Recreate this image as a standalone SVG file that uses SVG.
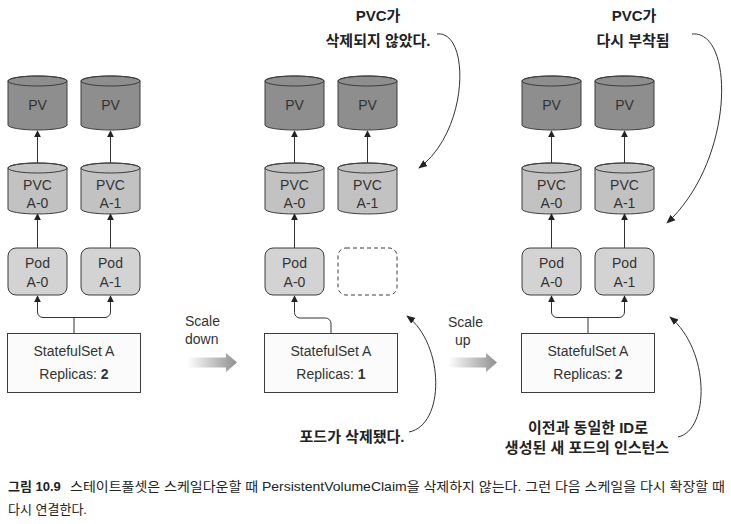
<svg xmlns="http://www.w3.org/2000/svg" width="731" height="524" viewBox="0 0 731 524">
<style>
.pv{fill:#8e8e8e;stroke:#3c3c3c;stroke-width:1}
.pvc{fill:#c2c2c2;stroke:#3c3c3c;stroke-width:1}
.cap{fill:none;stroke:#3c3c3c;stroke-width:1}
.pod{fill:#d3d3d3;stroke:#3c3c3c;stroke-width:1}
.ss{fill:#fbfbfb;stroke:#3c3c3c;stroke-width:1}
.dash{fill:none;stroke:#3c3c3c;stroke-width:1;stroke-dasharray:4 3}
.t{font-family:"Liberation Sans",Arial,sans-serif;font-size:14px;fill:#333;text-anchor:middle}
.tl{font-family:"Liberation Sans",Arial,sans-serif;font-size:14px;fill:#333}
.k{font-family:"Liberation Sans","Noto Sans CJK KR",sans-serif;font-size:15px;font-weight:bold;fill:#222;text-anchor:middle}
.cp{font-family:"Liberation Sans","Noto Sans CJK KR",sans-serif;font-size:13px;fill:#222}
.ln{fill:none;stroke:#333;stroke-width:1}
.cv{fill:none;stroke:#333;stroke-width:1}
</style>
<defs>
<marker id="ah" viewBox="0 0 10 10" refX="9" refY="5" markerWidth="7" markerHeight="7" markerUnits="userSpaceOnUse" orient="auto">
<path d="M0,0 L10,5 L0,10 Z" fill="#222"/>
</marker>
<marker id="ah2" viewBox="0 0 10 10" refX="9" refY="5" markerWidth="9" markerHeight="9" markerUnits="userSpaceOnUse" orient="auto">
<path d="M0,1 L10,5 L0,9 Z" fill="#222"/>
</marker>
<linearGradient id="grad" x1="0" y1="0" x2="1" y2="0">
<stop offset="0" stop-color="#ffffff"/>
<stop offset="1" stop-color="#8f8f8f"/>
</linearGradient>
</defs>

<!-- Column 1 -->
<g id="pv-1a"><path class="pv" d="M8,81 a29.5,5 0 0 1 59,0 V125 a29.5,5 0 0 1 -59,0 Z"/><ellipse class="cap" cx="37.5" cy="81" rx="29.5" ry="5"/><text class="t" x="37.5" y="110">PV</text></g>
<g id="pv-1b"><path class="pv" d="M81,81 a29.5,5 0 0 1 59,0 V125 a29.5,5 0 0 1 -59,0 Z"/><ellipse class="cap" cx="110.5" cy="81" rx="29.5" ry="5"/><text class="t" x="110.5" y="110">PV</text></g>
<g id="pvc-1a"><path class="pvc" d="M8,168 a29.5,5 0 0 1 59,0 V209 a29.5,5 0 0 1 -59,0 Z"/><ellipse class="cap" cx="37.5" cy="168" rx="29.5" ry="5"/><text class="t" x="37.5" y="190">PVC</text><text class="t" x="37.5" y="208">A-0</text></g>
<g id="pvc-1b"><path class="pvc" d="M81,168 a29.5,5 0 0 1 59,0 V209 a29.5,5 0 0 1 -59,0 Z"/><ellipse class="cap" cx="110.5" cy="168" rx="29.5" ry="5"/><text class="t" x="110.5" y="190">PVC</text><text class="t" x="110.5" y="208">A-1</text></g>
<g id="pod-1a"><rect class="pod" x="8" y="248" width="59" height="47" rx="8"/><text class="t" x="37.5" y="268">Pod</text><text class="t" x="37.5" y="287">A-0</text></g>
<g id="pod-1b"><rect class="pod" x="81" y="248" width="59" height="47" rx="8"/><text class="t" x="110.5" y="268">Pod</text><text class="t" x="110.5" y="287">A-1</text></g>
<g id="ss-1"><rect class="ss" x="7.5" y="333.5" width="133" height="59"/><text class="t" x="74" y="356">StatefulSet A</text><text class="t" x="74" y="379">Replicas: <tspan font-weight="bold">2</tspan></text></g>

<!-- Column 2 -->
<g id="pv-2a"><path class="pv" d="M265,81 a29.5,5 0 0 1 59,0 V125 a29.5,5 0 0 1 -59,0 Z"/><ellipse class="cap" cx="294.5" cy="81" rx="29.5" ry="5"/><text class="t" x="294.5" y="110">PV</text></g>
<g id="pv-2b"><path class="pv" d="M338,81 a29.5,5 0 0 1 59,0 V125 a29.5,5 0 0 1 -59,0 Z"/><ellipse class="cap" cx="367.5" cy="81" rx="29.5" ry="5"/><text class="t" x="367.5" y="110">PV</text></g>
<g id="pvc-2a"><path class="pvc" d="M265,168 a29.5,5 0 0 1 59,0 V209 a29.5,5 0 0 1 -59,0 Z"/><ellipse class="cap" cx="294.5" cy="168" rx="29.5" ry="5"/><text class="t" x="294.5" y="190">PVC</text><text class="t" x="294.5" y="208">A-0</text></g>
<g id="pvc-2b"><path class="pvc" d="M338,168 a29.5,5 0 0 1 59,0 V209 a29.5,5 0 0 1 -59,0 Z"/><ellipse class="cap" cx="367.5" cy="168" rx="29.5" ry="5"/><text class="t" x="367.5" y="190">PVC</text><text class="t" x="367.5" y="208">A-1</text></g>
<g id="pod-2a"><rect class="pod" x="265" y="248" width="59" height="47" rx="8"/><text class="t" x="294.5" y="268">Pod</text><text class="t" x="294.5" y="287">A-0</text></g>
<g id="pod-2b-deleted"><rect class="dash" x="338" y="248" width="59" height="47" rx="8"/></g>
<g id="ss-2"><rect class="ss" x="264.5" y="333.5" width="133" height="59"/><text class="t" x="331" y="356">StatefulSet A</text><text class="t" x="331" y="379">Replicas: <tspan font-weight="bold">1</tspan></text></g>

<!-- Column 3 -->
<g id="pv-3a"><path class="pv" d="M522,81 a29.5,5 0 0 1 59,0 V125 a29.5,5 0 0 1 -59,0 Z"/><ellipse class="cap" cx="551.5" cy="81" rx="29.5" ry="5"/><text class="t" x="551.5" y="110">PV</text></g>
<g id="pv-3b"><path class="pv" d="M595,81 a29.5,5 0 0 1 59,0 V125 a29.5,5 0 0 1 -59,0 Z"/><ellipse class="cap" cx="624.5" cy="81" rx="29.5" ry="5"/><text class="t" x="624.5" y="110">PV</text></g>
<g id="pvc-3a"><path class="pvc" d="M522,168 a29.5,5 0 0 1 59,0 V209 a29.5,5 0 0 1 -59,0 Z"/><ellipse class="cap" cx="551.5" cy="168" rx="29.5" ry="5"/><text class="t" x="551.5" y="190">PVC</text><text class="t" x="551.5" y="208">A-0</text></g>
<g id="pvc-3b"><path class="pvc" d="M595,168 a29.5,5 0 0 1 59,0 V209 a29.5,5 0 0 1 -59,0 Z"/><ellipse class="cap" cx="624.5" cy="168" rx="29.5" ry="5"/><text class="t" x="624.5" y="190">PVC</text><text class="t" x="624.5" y="208">A-1</text></g>
<g id="pod-3a"><rect class="pod" x="522" y="248" width="59" height="47" rx="8"/><text class="t" x="551.5" y="268">Pod</text><text class="t" x="551.5" y="287">A-0</text></g>
<g id="pod-3b"><rect class="pod" x="595" y="248" width="59" height="47" rx="8"/><text class="t" x="624.5" y="268">Pod</text><text class="t" x="624.5" y="287">A-1</text></g>
<g id="ss-3"><rect class="ss" x="521.5" y="333.5" width="133" height="59"/><text class="t" x="588" y="356">StatefulSet A</text><text class="t" x="588" y="379">Replicas: <tspan font-weight="bold">2</tspan></text></g>

<!-- Connectors -->
<g id="connectors">
<path class="ln" marker-end="url(#ah)" d="M37.5,163 V131"/>
<path class="ln" marker-end="url(#ah)" d="M110.5,163 V131"/>
<path class="ln" marker-end="url(#ah)" d="M37.5,248 V214"/>
<path class="ln" marker-end="url(#ah)" d="M110.5,248 V214"/>
<path class="ln" marker-end="url(#ah)" d="M74,333 V317.5 H43 a5.5,5.5 0 0 1 -5.5,-5.5 V296"/>
<path class="ln" marker-end="url(#ah)" d="M74,317.5 H105 a5.5,5.5 0 0 0 5.5,-5.5 V296"/>

<path class="ln" marker-end="url(#ah)" d="M294.5,163 V131"/>
<path class="ln" marker-end="url(#ah)" d="M367.5,163 V131"/>
<path class="ln" marker-end="url(#ah)" d="M294.5,248 V214"/>
<path class="ln" marker-end="url(#ah)" d="M331,333 V323.5 a5.5,5.5 0 0 0 -5.5,-5.5 H300 a5.5,5.5 0 0 1 -5.5,-5.5 V296"/>

<path class="ln" marker-end="url(#ah)" d="M551.5,163 V131"/>
<path class="ln" marker-end="url(#ah)" d="M624.5,163 V131"/>
<path class="ln" marker-end="url(#ah)" d="M551.5,248 V214"/>
<path class="ln" marker-end="url(#ah)" d="M624.5,248 V214"/>
<path class="ln" marker-end="url(#ah)" d="M588,333 V317.5 H557 a5.5,5.5 0 0 1 -5.5,-5.5 V296"/>
<path class="ln" marker-end="url(#ah)" d="M588,317.5 H619 a5.5,5.5 0 0 0 5.5,-5.5 V296"/>

<!-- annotation curves -->
<path class="cv" marker-end="url(#ah2)" d="M437,34 C470,30 470,130 419,168"/>
<path class="cv" marker-end="url(#ah2)" d="M692,34 C735,30 735,160 667,223"/>
<path class="cv" marker-end="url(#ah2)" d="M409,432 C445,425 445,345 407,316"/>
<path class="cv" marker-end="url(#ah2)" d="M678,437 C710,430 710,350 670,317"/>
</g>

<!-- Scale arrows -->
<g id="scale-down">
<path d="M187,357.5 H226 V353 L237,362.5 L226,372 V367.5 H187 Z" fill="url(#grad)"/>
<text class="tl" x="185" y="326">Scale</text>
<text class="tl" x="185" y="344">down</text>
</g>
<g id="scale-up">
<path d="M448,357.5 H486 V353 L497,362.5 L486,372 V367.5 H448 Z" fill="url(#grad)"/>
<text class="tl" x="448" y="327">Scale</text>
<text class="tl" x="455" y="345">up</text>
</g>

<!-- Annotations -->
<g id="note-pvc-kept">
<text class="k" x="378" y="21">PVC가</text>
<text class="k" x="378" y="46">삭제되지 않았다.</text>
</g>
<g id="note-pvc-reattached">
<text class="k" x="634" y="21">PVC가</text>
<text class="k" x="633" y="46">다시 부착됨</text>
</g>
<g id="note-pod-deleted">
<text class="k" x="352" y="442">포드가 삭제됐다.</text>
</g>
<g id="note-new-pod">
<text class="k" x="588" y="433">이전과 동일한 ID로</text>
<text class="k" x="587" y="453">생성된 새 포드의 인스턴스</text>
</g>

<!-- Caption -->
<g id="caption">
<text class="cp" x="8" y="491"><tspan font-weight="bold">그림 10.9</tspan></text>
<text class="cp" x="70" y="491" textLength="655" lengthAdjust="spacingAndGlyphs">스테이트풀셋은 스케일다운할 때 PersistentVolumeClaim을 삭제하지 않는다. 그런 다음 스케일을 다시 확장할 때</text>
<text class="cp" x="8" y="514">다시 연결한다.</text>
</g>
</svg>
